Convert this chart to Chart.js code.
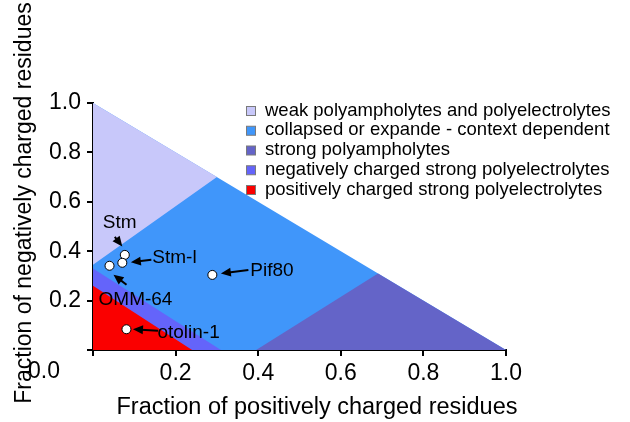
<!DOCTYPE html>
<html>
<head>
<meta charset="utf-8">
<script src="https://cdn.jsdelivr.net/npm/chart.js@4.4.1/dist/chart.umd.min.js"></script>
<style>
    html, body { margin: 0; padding: 0; background: #fff; }
</style>
</head>
<body>
<canvas id="grafico" width="630" height="422"></canvas>
<script>
/* Diagrama de estados: fração de resíduos positivos x negativos */

// Regiões do diagrama (legenda)
const regionNames = [
    'weak polyampholytes and polyelectrolytes',
    'collapsed or expande - context dependent',
    'strong polyampholytes',
    'negatively charged strong polyelectrolytes',
    'positively charged strong polyelectrolytes'
];
const regionColors = ['#c8c8fa', '#4096fa', '#6464c8', '#6464fa', '#fa0000'];

// Vértices de cada região (x = fração positiva, y = fração negativa)
const weakX = [0, 0, 0.30];
const weakY = [1, 0.345, 0.70];
const contextX = [0, 0, 1];
const contextY = [1, 0, 0];
const ampholyteX = [0.395, 0.69, 1];
const ampholyteY = [0, 0.31, 0];
const negativeX = [0, 0, 0.31];
const negativeY = [0.33, 0, 0];
const positiveX = [0, 0, 0.24];
const positiveY = [0.26, 0, 0];

// Proteínas
const proteinNames = ['Stm', 'Stm-l', 'OMM-64', 'Pif80', 'otolin-1'];
const fracPositive = [0.077, 0.071, 0.040, 0.289, 0.081];
const fracNegative = [0.385, 0.353, 0.341, 0.304, 0.084];

// Ticks dos eixos
const tickValues = [0, 0.2, 0.4, 0.6, 0.8, 1.0];

// Posição dos rótulos e setas (px, relativo ao ponto)
const labelOffsets = [[-22, -32], [30, -5], [-11, 34], [38, -4.5], [31, 4]];
const arrowTails = [[-10, -18], [29, -3], [17, 19], [36, -5], [31.5, 1.5]];
const arrowHeads = [[-2.5, -8.5], [8.5, -0.5], [4, 9], [8.5, -1.5], [6.5, 0]];

const FONTE = '"Liberation Sans", Arial, sans-serif';

function regiao(xs, ys, cor, ordem) {
    return {
        data: xs.map((v, i) => ({ x: v, y: ys[i] })),
        showLine: true,
        fill: 'shape',
        backgroundColor: cor,
        borderColor: 'transparent',
        borderWidth: 0,
        pointRadius: 0,
        tension: 0,
        order: ordem
    };
}

function seta(ctx, x1, y1, x2, y2) {
    const ang = Math.atan2(y2 - y1, x2 - x1);
    const len = 10, half = 4.5;
    ctx.beginPath();
    ctx.moveTo(x1, y1);
    ctx.lineTo(x2 - Math.cos(ang) * len * 0.8, y2 - Math.sin(ang) * len * 0.8);
    ctx.stroke();
    ctx.beginPath();
    ctx.moveTo(x2, y2);
    ctx.lineTo(x2 - Math.cos(ang) * len - Math.sin(ang) * half, y2 - Math.sin(ang) * len + Math.cos(ang) * half);
    ctx.lineTo(x2 - Math.cos(ang) * len + Math.sin(ang) * half, y2 - Math.sin(ang) * len - Math.cos(ang) * half);
    ctx.closePath();
    ctx.fill();
}

const anotacoes = {
    id: 'anotacoes',
    afterDraw(chart) {
        const { ctx, scales: { x, y } } = chart;
        ctx.save();
        ctx.fillStyle = '#000';
        ctx.strokeStyle = '#000';
        ctx.lineWidth = 2;

        // Rótulos e setas das proteínas
        ctx.font = '19px ' + FONTE;
        ctx.textAlign = 'left';
        ctx.textBaseline = 'middle';
        proteinNames.forEach((nome, i) => {
            const px = x.getPixelForValue(fracPositive[i]);
            const py = y.getPixelForValue(fracNegative[i]);
            ctx.fillText(nome, px + labelOffsets[i][0], py + labelOffsets[i][1]);
            seta(ctx, px + arrowTails[i][0], py + arrowTails[i][1], px + arrowHeads[i][0], py + arrowHeads[i][1]);
        });

        // Legenda
        ctx.font = '18.5px ' + FONTE;
        ctx.textBaseline = 'alphabetic';
        ctx.lineWidth = 1;
        regionNames.forEach((nome, i) => {
            const by = 106.5 + i * 19.75;
            ctx.fillStyle = regionColors[i];
            ctx.fillRect(246.5, by, 9, 9);
            ctx.strokeStyle = '#7a7a7a';
            ctx.strokeRect(246.5, by, 9, 9);
            ctx.fillStyle = '#000';
            ctx.fillText(nome, 265, by + 9);
        });

        // "0.0" no canto
        ctx.font = '23px ' + FONTE;
        ctx.textAlign = 'center';
        ctx.textBaseline = 'middle';
        ctx.fillText('0.0', 44, 372);

        // Títulos dos eixos
        ctx.font = '23.5px ' + FONTE;
        ctx.fillText('Fraction of positively charged residues', 317, 408);
        ctx.translate(25, 203);
        ctx.rotate(-Math.PI / 2);
        ctx.font = '23px ' + FONTE;
        ctx.fillText('Fraction of negatively charged residues', 0, 0);
        ctx.restore();
    }
};

const eixo = (outro) => ({
    type: 'linear',
    min: 0,
    max: 1,
    z: 1,
    afterBuildTicks: s => { s.ticks = tickValues.map(v => ({ value: v })); },
    ticks: {
        callback: v => v === 0 ? '' : v.toFixed(1),
        color: '#000',
        font: { family: FONTE, size: 23 },
        maxRotation: 0,
        autoSkip: false,
        ...outro
    },
    grid: { drawOnChartArea: false, tickLength: 6, color: '#000', lineWidth: 2 },
    border: { color: '#000', width: 2 }
});

const escalaX = eixo({ padding: 4 });
escalaX.afterFit = s => { s.height = 72; };
const escalaY = eixo({ padding: 6 });
escalaY.afterFit = s => { s.width = 93; };

new Chart(document.getElementById('grafico'), {
    type: 'scatter',
    data: {
        datasets: [
            {
                data: proteinNames.map((n, i) => ({ x: fracPositive[i], y: fracNegative[i] })),
                pointRadius: 4.5,
                pointBackgroundColor: '#fff',
                pointBorderColor: '#000',
                pointBorderWidth: 1,
                order: 0
            },
            regiao(positiveX, positiveY, regionColors[4], 1),
            regiao(negativeX, negativeY, regionColors[3], 2),
            regiao(ampholyteX, ampholyteY, regionColors[2], 3),
            regiao(weakX, weakY, regionColors[0], 3),
            regiao(contextX, contextY, regionColors[1], 5)
        ]
    },
    options: {
        responsive: false,
        animation: false,
        events: [],
        layout: { padding: { top: 103, right: 124, left: 0, bottom: 0 } },
        plugins: { legend: { display: false }, tooltip: { enabled: false } },
        scales: { x: escalaX, y: escalaY }
    },
    plugins: [anotacoes]
});
</script>
</body>
</html>
